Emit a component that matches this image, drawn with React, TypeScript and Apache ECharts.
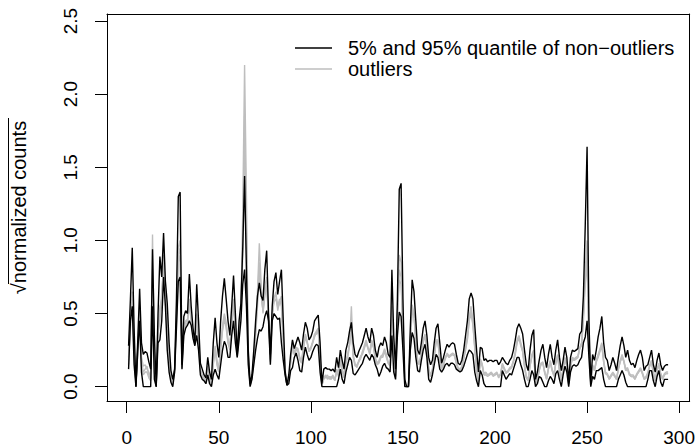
import React, { useEffect, useRef } from "react";
import * as echarts from "echarts";

const LEG_Q = "5% and 95% quantile of non\u2212outliers";
const LEG_O = "outliers";
const Y_TITLE = "\u221Anormalized counts";

const xTicks = [0, 50, 100, 150, 200, 250, 300];
const yTicks = [0, 0.5, 1, 1.5, 2, 2.5];

// 95% quantile of non-outliers, x = 1..294
const q95 = [
  0.28, 0.60, 0.95, 0.40, 0.00, 0.32, 0.67, 0.30, 0.22, 0.24,
  0.23, 0.17, 0.12, 0.94, 0.35, 0.00, 0.50, 0.89, 0.75, 1.05,
  0.72, 0.57, 0.30, 0.11, 0.05, 0.12, 0.60, 1.30, 1.33, 0.15,
  0.48, 0.52, 0.50, 0.77, 0.55, 0.40, 0.30, 0.70, 0.45, 0.16,
  0.12, 0.08, 0.06, 0.20, 0.10, 0.05, 0.30, 0.47, 0.30, 0.20,
  0.45, 0.62, 0.74, 0.60, 0.45, 0.35, 0.55, 0.76, 0.50, 0.22,
  0.45, 0.57, 0.95, 1.44, 0.80, 0.25, 0.02, 0.08, 0.25, 0.45,
  0.62, 0.71, 0.62, 0.59, 0.80, 0.93, 0.50, 0.22, 0.55, 0.72,
  0.78, 0.63, 0.72, 0.80, 0.45, 0.11, 0.01, 0.08, 0.22, 0.32,
  0.26, 0.30, 0.34, 0.30, 0.25, 0.36, 0.44, 0.40, 0.32, 0.34,
  0.38, 0.45, 0.47, 0.49, 0.30, 0.02, 0.12, 0.13, 0.12, 0.12,
  0.11, 0.12, 0.10, 0.20, 0.13, 0.25, 0.18, 0.12, 0.25, 0.30,
  0.38, 0.44, 0.30, 0.22, 0.20, 0.24, 0.27, 0.30, 0.35, 0.40,
  0.34, 0.30, 0.40, 0.35, 0.25, 0.20, 0.27, 0.30, 0.28, 0.34,
  0.30, 0.22, 0.20, 0.80, 0.35, 0.12, 0.60, 1.35, 1.39, 0.60,
  0.05, 0.00, 0.00, 0.40, 0.73, 0.65, 0.45, 0.25, 0.22, 0.30,
  0.40, 0.45, 0.35, 0.20, 0.15, 0.18, 0.30, 0.40, 0.43, 0.30,
  0.16, 0.20, 0.25, 0.29, 0.27, 0.29, 0.30, 0.29, 0.22, 0.16,
  0.15, 0.18, 0.25, 0.35, 0.45, 0.60, 0.64, 0.60, 0.42, 0.25,
  0.10, 0.27, 0.26, 0.18, 0.19, 0.17, 0.18, 0.18, 0.17, 0.18,
  0.18, 0.15, 0.17, 0.20, 0.18, 0.16, 0.15, 0.18, 0.20, 0.25,
  0.32, 0.40, 0.43, 0.40, 0.36, 0.25, 0.15, 0.11, 0.25, 0.35,
  0.39, 0.05, 0.10, 0.18, 0.25, 0.29, 0.20, 0.13, 0.22, 0.29,
  0.20, 0.15, 0.25, 0.32, 0.20, 0.11, 0.18, 0.27, 0.20, 0.04,
  0.20, 0.25, 0.24, 0.25, 0.26, 0.36, 0.38, 0.62, 1.10, 1.64,
  0.45, 0.03, 0.22, 0.18, 0.25, 0.34, 0.40, 0.48, 0.30, 0.20,
  0.18, 0.11, 0.15, 0.20, 0.16, 0.11, 0.20, 0.28, 0.34, 0.28,
  0.20, 0.25, 0.18, 0.15, 0.16, 0.13, 0.18, 0.22, 0.25, 0.20,
  0.11, 0.14, 0.15, 0.20, 0.25, 0.15, 0.10, 0.18, 0.23, 0.15,
  0.11, 0.14, 0.15, 0.15,
];

// 5% quantile of non-outliers
const q05 = [
  0.12, 0.45, 0.55, 0.15, 0.00, 0.25, 0.45, 0.10, 0.00, 0.00,
  0.00, 0.00, 0.00, 0.55, 0.05, 0.00, 0.30, 0.32, 0.45, 0.75,
  0.55, 0.25, 0.10, 0.03, 0.00, 0.10, 0.40, 0.72, 0.75, 0.12,
  0.35, 0.40, 0.42, 0.45, 0.42, 0.33, 0.28, 0.35, 0.25, 0.08,
  0.05, 0.04, 0.02, 0.08, 0.02, 0.00, 0.08, 0.12, 0.08, 0.05,
  0.15, 0.25, 0.31, 0.28, 0.20, 0.20, 0.35, 0.45, 0.30, 0.20,
  0.32, 0.45, 0.70, 0.80, 0.55, 0.15, 0.00, 0.05, 0.15, 0.25,
  0.33, 0.39, 0.38, 0.41, 0.48, 0.52, 0.45, 0.15, 0.45, 0.50,
  0.48, 0.46, 0.47, 0.30, 0.18, 0.08, 0.01, 0.02, 0.11, 0.13,
  0.20, 0.23, 0.18, 0.11, 0.10, 0.20, 0.27, 0.22, 0.18, 0.20,
  0.24, 0.27, 0.29, 0.28, 0.10, 0.00, 0.00, 0.00, 0.00, 0.00,
  0.00, 0.00, 0.00, 0.00, 0.05, 0.12, 0.05, 0.02, 0.10, 0.15,
  0.20, 0.18, 0.09, 0.08, 0.10, 0.12, 0.14, 0.16, 0.20, 0.22,
  0.20, 0.18, 0.22, 0.20, 0.15, 0.12, 0.07, 0.10, 0.14, 0.16,
  0.13, 0.12, 0.10, 0.35, 0.10, 0.05, 0.35, 0.51, 0.48, 0.25,
  0.00, 0.00, 0.00, 0.25, 0.37, 0.33, 0.20, 0.11, 0.10, 0.18,
  0.25, 0.29, 0.20, 0.05, 0.03, 0.08, 0.15, 0.22, 0.20, 0.12,
  0.10, 0.12, 0.15, 0.16, 0.14, 0.16, 0.16, 0.15, 0.12, 0.11,
  0.10, 0.11, 0.14, 0.18, 0.22, 0.25, 0.24, 0.22, 0.10, 0.04,
  0.00, 0.11, 0.08, 0.02, 0.00, 0.00, 0.00, 0.00, 0.00, 0.00,
  0.00, 0.00, 0.00, 0.11, 0.08, 0.05, 0.07, 0.09, 0.08, 0.12,
  0.16, 0.20, 0.20, 0.15, 0.11, 0.05, 0.00, 0.00, 0.05, 0.11,
  0.08, 0.00, 0.02, 0.07, 0.06, 0.03, 0.00, 0.00, 0.04, 0.07,
  0.05, 0.02, 0.09, 0.11, 0.05, 0.00, 0.08, 0.14, 0.10, 0.00,
  0.10, 0.14, 0.15, 0.14, 0.15, 0.18, 0.20, 0.30, 0.34, 0.45,
  0.20, 0.00, 0.07, 0.05, 0.11, 0.11, 0.12, 0.13, 0.05, 0.00,
  0.00, 0.00, 0.00, 0.00, 0.00, 0.00, 0.05, 0.08, 0.11, 0.08,
  0.03, 0.00, 0.00, 0.00, 0.00, 0.00, 0.00, 0.00, 0.00, 0.00,
  0.00, 0.00, 0.05, 0.11, 0.11, 0.04, 0.00, 0.07, 0.11, 0.03,
  0.00, 0.05, 0.05, 0.05,
];

const outlierA = [
  0.20, 0.50, 0.60, 0.25, 0.02, 0.28, 0.55, 0.18, 0.10, 0.12,
  0.14, 0.08, 0.05, 1.04, 0.15, 0.02, 0.40, 0.55, 0.60, 0.85,
  0.62, 0.40, 0.18, 0.06, 0.02, 0.11, 0.50, 0.95, 1.00, 0.14,
  0.42, 0.45, 0.46, 0.60, 0.48, 0.36, 0.29, 0.50, 0.35, 0.12,
  0.08, 0.06, 0.04, 0.12, 0.05, 0.02, 0.18, 0.28, 0.18, 0.12,
  0.28, 0.42, 0.50, 0.44, 0.32, 0.28, 0.45, 0.60, 0.40, 0.21,
  0.38, 0.52, 1.20, 2.20, 1.30, 0.22, 0.01, 0.06, 0.20, 0.40,
  0.65, 0.98, 0.70, 0.50, 0.62, 0.70, 0.48, 0.18, 0.50, 0.62,
  0.62, 0.55, 0.60, 0.55, 0.30, 0.09, 0.01, 0.05, 0.16, 0.31,
  0.23, 0.27, 0.26, 0.20, 0.18, 0.28, 0.36, 0.31, 0.25, 0.27,
  0.31, 0.36, 0.38, 0.40, 0.20, 0.01, 0.06, 0.08, 0.05, 0.07,
  0.06, 0.08, 0.04, 0.12, 0.09, 0.20, 0.12, 0.08, 0.18, 0.22,
  0.30, 0.55, 0.22, 0.15, 0.14, 0.18, 0.20, 0.24, 0.28, 0.32,
  0.27, 0.24, 0.32, 0.28, 0.20, 0.16, 0.18, 0.21, 0.22, 0.26,
  0.22, 0.17, 0.15, 0.55, 0.22, 0.08, 0.50, 0.73, 0.70, 0.40,
  0.02, 0.00, 0.01, 0.32, 0.56, 0.50, 0.32, 0.18, 0.16, 0.24,
  0.32, 0.36, 0.27, 0.12, 0.08, 0.12, 0.22, 0.32, 0.32, 0.20,
  0.13, 0.16, 0.20, 0.23, 0.21, 0.22, 0.23, 0.22, 0.17, 0.13,
  0.12, 0.14, 0.20, 0.27, 0.35, 0.48, 0.55, 0.45, 0.28, 0.12,
  0.04, 0.19, 0.16, 0.09, 0.10, 0.08, 0.09, 0.10, 0.08, 0.09,
  0.10, 0.07, 0.09, 0.16, 0.13, 0.10, 0.11, 0.13, 0.14, 0.18,
  0.24, 0.32, 0.35, 0.30, 0.25, 0.15, 0.07, 0.05, 0.15, 0.22,
  0.25, 0.03, 0.06, 0.12, 0.16, 0.17, 0.10, 0.06, 0.13, 0.18,
  0.12, 0.08, 0.17, 0.22, 0.12, 0.05, 0.13, 0.20, 0.15, 0.02,
  0.15, 0.20, 0.19, 0.20, 0.21, 0.27, 0.30, 0.50, 0.80, 1.00,
  0.35, 0.02, 0.15, 0.12, 0.18, 0.22, 0.26, 0.30, 0.18, 0.10,
  0.09, 0.06, 0.08, 0.10, 0.08, 0.05, 0.13, 0.18, 0.22, 0.18,
  0.12, 0.13, 0.09, 0.08, 0.08, 0.06, 0.09, 0.11, 0.13, 0.10,
  0.06, 0.07, 0.10, 0.15, 0.18, 0.10, 0.05, 0.12, 0.16, 0.09,
  0.06, 0.09, 0.10, 0.10,
];

const outlierB = [
  0.18, 0.40, 0.65, 0.30, 0.03, 0.22, 0.50, 0.20, 0.14, 0.15,
  0.12, 0.10, 0.06, 0.70, 0.20, 0.03, 0.35, 0.50, 0.55, 0.90,
  0.65, 0.45, 0.20, 0.08, 0.03, 0.12, 0.45, 0.85, 0.90, 0.13,
  0.40, 0.44, 0.45, 0.55, 0.46, 0.35, 0.30, 0.45, 0.30, 0.10,
  0.07, 0.05, 0.03, 0.14, 0.06, 0.03, 0.15, 0.25, 0.15, 0.10,
  0.25, 0.40, 0.48, 0.40, 0.30, 0.25, 0.42, 0.58, 0.38, 0.21,
  0.40, 0.50, 1.00, 1.85, 1.05, 0.20, 0.01, 0.07, 0.18, 0.35,
  0.55, 0.80, 0.62, 0.52, 0.68, 0.75, 0.47, 0.19, 0.48, 0.60,
  0.65, 0.52, 0.58, 0.62, 0.35, 0.10, 0.01, 0.05, 0.18, 0.28,
  0.22, 0.25, 0.24, 0.18, 0.16, 0.26, 0.34, 0.30, 0.24, 0.26,
  0.30, 0.35, 0.36, 0.38, 0.18, 0.01, 0.07, 0.06, 0.08, 0.05,
  0.07, 0.06, 0.05, 0.10, 0.08, 0.18, 0.10, 0.07, 0.16, 0.20,
  0.28, 0.40, 0.20, 0.14, 0.15, 0.17, 0.21, 0.22, 0.26, 0.30,
  0.26, 0.22, 0.30, 0.27, 0.19, 0.15, 0.16, 0.20, 0.20, 0.24,
  0.20, 0.16, 0.14, 0.50, 0.20, 0.07, 0.45, 0.90, 0.85, 0.38,
  0.02, 0.00, 0.01, 0.30, 0.52, 0.48, 0.30, 0.16, 0.15, 0.22,
  0.30, 0.35, 0.26, 0.11, 0.07, 0.11, 0.20, 0.30, 0.30, 0.19,
  0.12, 0.15, 0.19, 0.22, 0.20, 0.21, 0.22, 0.21, 0.16, 0.12,
  0.11, 0.13, 0.19, 0.25, 0.32, 0.45, 0.50, 0.42, 0.26, 0.11,
  0.03, 0.17, 0.14, 0.08, 0.08, 0.07, 0.08, 0.09, 0.07, 0.08,
  0.09, 0.06, 0.08, 0.15, 0.12, 0.09, 0.10, 0.12, 0.13, 0.17,
  0.22, 0.30, 0.33, 0.28, 0.24, 0.14, 0.06, 0.04, 0.14, 0.20,
  0.24, 0.02, 0.05, 0.11, 0.15, 0.16, 0.09, 0.05, 0.12, 0.17,
  0.11, 0.07, 0.16, 0.20, 0.11, 0.04, 0.12, 0.19, 0.14, 0.02,
  0.14, 0.19, 0.18, 0.19, 0.20, 0.26, 0.28, 0.45, 0.70, 0.85,
  0.30, 0.02, 0.14, 0.11, 0.17, 0.20, 0.24, 0.28, 0.17, 0.09,
  0.08, 0.05, 0.07, 0.09, 0.07, 0.05, 0.12, 0.17, 0.20, 0.17,
  0.11, 0.12, 0.08, 0.07, 0.07, 0.05, 0.08, 0.10, 0.12, 0.09,
  0.05, 0.06, 0.09, 0.14, 0.17, 0.09, 0.04, 0.11, 0.15, 0.08,
  0.05, 0.08, 0.09, 0.09,
];

const outlierC = [
  0.15, 0.48, 0.58, 0.22, 0.01, 0.26, 0.48, 0.14, 0.08, 0.10,
  0.10, 0.06, 0.04, 0.80, 0.10, 0.01, 0.38, 0.45, 0.65, 0.80,
  0.58, 0.35, 0.15, 0.05, 0.02, 0.11, 0.48, 0.90, 0.95, 0.13,
  0.38, 0.42, 0.44, 0.58, 0.45, 0.35, 0.28, 0.48, 0.32, 0.11,
  0.07, 0.05, 0.03, 0.10, 0.04, 0.02, 0.16, 0.26, 0.16, 0.10,
  0.26, 0.38, 0.45, 0.42, 0.30, 0.26, 0.44, 0.56, 0.37, 0.20,
  0.36, 0.50, 0.90, 1.60, 0.95, 0.18, 0.01, 0.06, 0.19, 0.38,
  0.60, 0.85, 0.66, 0.51, 0.64, 0.72, 0.46, 0.17, 0.49, 0.58,
  0.60, 0.54, 0.57, 0.58, 0.32, 0.09, 0.01, 0.04, 0.17, 0.29,
  0.22, 0.26, 0.25, 0.19, 0.17, 0.27, 0.35, 0.30, 0.24, 0.26,
  0.30, 0.34, 0.37, 0.39, 0.19, 0.01, 0.05, 0.07, 0.06, 0.06,
  0.05, 0.07, 0.04, 0.11, 0.07, 0.19, 0.11, 0.06, 0.17, 0.21,
  0.29, 0.45, 0.21, 0.15, 0.13, 0.17, 0.19, 0.23, 0.27, 0.31,
  0.26, 0.23, 0.31, 0.27, 0.19, 0.15, 0.17, 0.20, 0.21, 0.25,
  0.21, 0.16, 0.15, 0.52, 0.21, 0.07, 0.48, 0.80, 0.75, 0.36,
  0.02, 0.00, 0.01, 0.31, 0.54, 0.49, 0.31, 0.17, 0.15, 0.23,
  0.31, 0.35, 0.26, 0.12, 0.07, 0.11, 0.21, 0.31, 0.31, 0.19,
  0.12, 0.15, 0.20, 0.22, 0.20, 0.22, 0.22, 0.21, 0.16, 0.12,
  0.11, 0.13, 0.19, 0.26, 0.33, 0.46, 0.52, 0.43, 0.27, 0.11,
  0.04, 0.18, 0.15, 0.08, 0.09, 0.08, 0.08, 0.09, 0.08, 0.08,
  0.09, 0.07, 0.08, 0.15, 0.12, 0.10, 0.10, 0.12, 0.13, 0.17,
  0.23, 0.31, 0.34, 0.29, 0.24, 0.14, 0.06, 0.05, 0.14, 0.21,
  0.24, 0.03, 0.05, 0.11, 0.16, 0.16, 0.10, 0.05, 0.12, 0.17,
  0.11, 0.08, 0.16, 0.21, 0.11, 0.05, 0.12, 0.19, 0.14, 0.02,
  0.14, 0.19, 0.18, 0.19, 0.20, 0.26, 0.29, 0.48, 0.75, 0.92,
  0.32, 0.02, 0.14, 0.11, 0.17, 0.21, 0.25, 0.29, 0.17, 0.09,
  0.08, 0.05, 0.07, 0.09, 0.07, 0.05, 0.12, 0.17, 0.21, 0.17,
  0.11, 0.12, 0.08, 0.07, 0.07, 0.05, 0.08, 0.10, 0.12, 0.09,
  0.05, 0.06, 0.09, 0.14, 0.17, 0.09, 0.04, 0.11, 0.15, 0.08,
  0.05, 0.08, 0.09, 0.09,
];

const FONT = "'Liberation Sans', Arial, Helvetica, sans-serif";
const GRAY = "#BEBEBE";

function toPoints(arr: number[]) {
  return arr.map((v, i) => [i + 1, v]);
}

export default function App() {
  const ref = useRef<HTMLDivElement>(null);
  useEffect(() => {
    if (!ref.current) return;
    const chart = echarts.init(ref.current, null, { renderer: "svg" });
    const n = q95.length;
    const xPad = (n - 1) * 0.04;
    const xMin = 1 - xPad;
    const xMax = n + xPad;
    const yTop = 2.45;
    const yMin = -yTop * 0.04;
    const yMax = yTop * 1.04;
    const axisLineStyle = { show: true, onZero: false, lineStyle: { color: "#000", width: 1 } };
    const grayLine = (arr: number[]) => ({
      type: "line",
      name: LEG_O,
      data: toPoints(arr),
      symbol: "none",
      showSymbol: false,
      lineStyle: { color: GRAY, width: 1.4 },
      itemStyle: { color: GRAY },
      z: 2,
      silent: true,
    });
    const blackLine = (arr: number[]) => ({
      type: "line",
      name: LEG_Q,
      data: toPoints(arr),
      symbol: "none",
      showSymbol: false,
      lineStyle: { color: "#000", width: 1.4 },
      itemStyle: { color: "#000" },
      z: 3,
      silent: true,
    });
    chart.setOption({
      animation: false,
      backgroundColor: "#fff",
      textStyle: { fontFamily: FONT },
      grid: {
        left: 107,
        right: 8,
        top: 14,
        bottom: 46,
        containLabel: false,
      },
      legend: {
        orient: "vertical",
        left: 290,
        top: 33,
        itemWidth: 37,
        itemHeight: 1.4,
        itemGap: 1,
        icon: "rect",
        data: [
          { name: LEG_Q, itemStyle: { color: "#000" } },
          { name: LEG_O, itemStyle: { color: GRAY } },
        ],
        textStyle: {
          fontSize: 20,
          fontFamily: FONT,
          color: "#000",
          lineHeight: 20,
          padding: [0, 0, 0, 11],
        },
        selectedMode: false,
      },
      xAxis: [
        {
          type: "value",
          min: xMin,
          max: xMax,
          splitLine: { show: false },
          axisLine: axisLineStyle,
          axisTick: {
            show: true,
            length: 12,
            inside: false,
            customValues: xTicks,
            lineStyle: { color: "#000", width: 1 },
          },
          axisLabel: {
            customValues: xTicks,
            fontSize: 19,
            fontFamily: FONT,
            color: "#000",
            margin: 27,
            formatter: (v: number) => String(v),
          },
        },
        {
          type: "value",
          position: "top",
          min: xMin,
          max: xMax,
          splitLine: { show: false },
          axisLine: axisLineStyle,
          axisTick: { show: false },
          axisLabel: { show: false },
        },
      ],
      yAxis: [
        {
          type: "value",
          min: yMin,
          max: yMax,
          splitLine: { show: false },
          axisLine: axisLineStyle,
          axisTick: {
            show: true,
            length: 12,
            inside: false,
            customValues: yTicks,
            lineStyle: { color: "#000", width: 1 },
          },
          axisLabel: {
            customValues: yTicks,
            fontSize: 19,
            fontFamily: FONT,
            color: "#000",
            rotate: 90,
            margin: 27,
            formatter: (v: number) => v.toFixed(1),
          },
          name: Y_TITLE,
          nameLocation: "middle",
          nameRotate: 90,
          nameGap: 78,
          nameTextStyle: { fontSize: 20, fontFamily: FONT, color: "#000" },
        },
        {
          type: "value",
          position: "right",
          min: yMin,
          max: yMax,
          splitLine: { show: false },
          axisLine: axisLineStyle,
          axisTick: { show: false },
          axisLabel: { show: false },
        },
      ],
      graphic: [
        {
          type: "line",
          shape: { x1: 8.5, y1: 118, x2: 8.5, y2: 284 },
          style: { stroke: "#000", lineWidth: 1 },
        },
      ],
      series: [
        grayLine(outlierA),
        grayLine(outlierB),
        grayLine(outlierC),
        blackLine(q95),
        blackLine(q05),
      ],
    });
    return () => chart.dispose();
  }, []);
  return (
    <div
      ref={ref}
      style={{ position: "fixed", left: 0, top: 0, width: 698, height: 447, background: "#fff" }}
    />
  );
}
